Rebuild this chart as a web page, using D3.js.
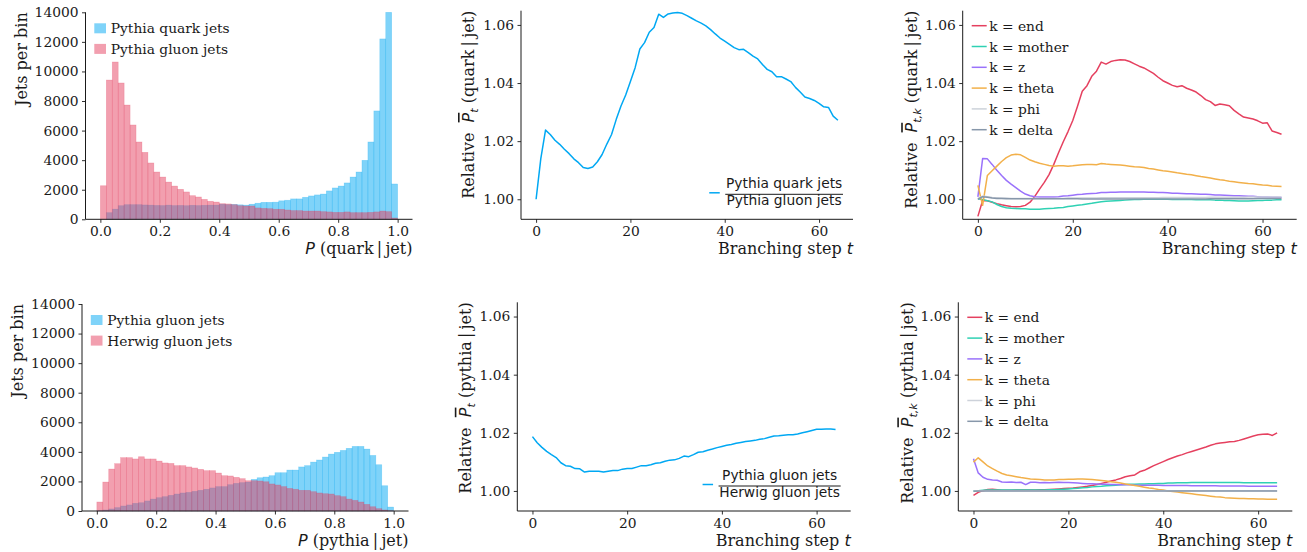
<!DOCTYPE html>
<html>
<head>
<meta charset="utf-8">
<script src="https://cdnjs.cloudflare.com/ajax/libs/d3/7.8.5/d3.min.js"></script>
<style>
  body { margin: 0; background: #fff; }
  svg text { font-family: "DejaVu Serif", serif; fill: #1a1a1a; }
</style>
</head>
<body>
<svg id="fig" width="1307" height="552"></svg>
<script>
// ---------- data ----------
const binWidth = 0.02;
// top-left: P(quark|jet), 50 bins from 0 to 1
const quarkJets = [
    0, 450, 690, 920, 990, 990, 990, 970, 960, 940,
    930, 960, 930, 940, 920, 950, 930, 950, 960, 960,
    1020, 990, 1010, 980, 960, 1020, 1090, 1150, 1150, 1160,
    1250, 1290, 1380, 1380, 1490, 1580, 1650, 1710, 1920, 2120,
    2250, 2460, 2860, 3200, 3990, 5230, 7330, 12200, 14000, 2390
];
const gluonJets = [
    2270, 9420, 10640, 9220, 7730, 6380, 5230, 4530, 3810, 3200,
    2860, 2520, 2250, 2030, 1850, 1600, 1510, 1350, 1220, 1170,
    1060, 1040, 990, 920, 900, 900, 770, 740, 720, 680,
    680, 630, 590, 590, 560, 560, 560, 520, 500, 470,
    470, 500, 450, 450, 450, 470, 500, 560, 520, 90
];
// bottom-left: P(pythia|jet)
const pythiaGluonJets = [
    20, 70, 140, 230, 340, 410, 520, 560, 680, 810,
    900, 970, 1060, 1150, 1220, 1260, 1330, 1400, 1470, 1560,
    1650, 1650, 1780, 1870, 1920, 1960, 2140, 2250, 2300, 2390,
    2590, 2590, 2770, 2770, 2980, 3070, 3310, 3450, 3650, 3850,
    3970, 4100, 4240, 4370, 4370, 4190, 3760, 3130, 1710, 270
];
const herwigGluonJets = [
    610, 1960, 2840, 3200, 3610, 3610, 3520, 3670, 3520, 3520,
    3380, 3250, 3220, 3070, 3070, 2980, 2910, 2820, 2730, 2730,
    2570, 2390, 2370, 2280, 2190, 2050, 2050, 2030, 1980, 1830,
    1760, 1650, 1530, 1470, 1400, 1400, 1310, 1220, 1170, 1150,
    1040, 970, 810, 720, 610, 450, 290, 160, 70, 20
];
const histTicksY = [0, 2000, 4000, 6000, 8000, 10000, 12000, 14000];
const histTicksX = [0, 0.2, 0.4, 0.6, 0.8, 1.0];

// middle: relative P_t per branching step t = 0..64
const quarkOverGluon = [
    1.0000, 1.0140, 1.0238, 1.0223, 1.0203, 1.0189, 1.0172, 1.0157, 1.0139, 1.0126,
    1.0109, 1.0106, 1.0111, 1.0129, 1.0154, 1.0190, 1.0223, 1.0275, 1.0321, 1.0359,
    1.0405, 1.0453, 1.0517, 1.0539, 1.0575, 1.0591, 1.0637, 1.0626, 1.0638, 1.0641,
    1.0643, 1.0640, 1.0632, 1.0623, 1.0614, 1.0606, 1.0597, 1.0584, 1.0569, 1.0555,
    1.0544, 1.0533, 1.0522, 1.0515, 1.0516, 1.0505, 1.0493, 1.0483, 1.0464, 1.0447,
    1.0439, 1.0422, 1.0422, 1.0414, 1.0405, 1.0385, 1.0369, 1.0352, 1.0347, 1.0340,
    1.0330, 1.0318, 1.0316, 1.0286, 1.0272
];
const pythiaOverHerwig = [
    1.0187, 1.0166, 1.0150, 1.0136, 1.0125, 1.0115, 1.0097, 1.0087, 1.0085, 1.0077,
    1.0076, 1.0065, 1.0068, 1.0068, 1.0068, 1.0065, 1.0068, 1.0070, 1.0070, 1.0075,
    1.0077, 1.0077, 1.0082, 1.0087, 1.0087, 1.0090, 1.0095, 1.0097, 1.0102, 1.0106,
    1.0107, 1.0112, 1.0120, 1.0118, 1.0125, 1.0133, 1.0135, 1.0140, 1.0144, 1.0149,
    1.0153, 1.0157, 1.0160, 1.0164, 1.0167, 1.0170, 1.0172, 1.0174, 1.0178, 1.0180,
    1.0185, 1.0189, 1.0190, 1.0192, 1.0193, 1.0193, 1.0196, 1.0200, 1.0204, 1.0208,
    1.0212, 1.0212, 1.0213, 1.0213, 1.0211
];

// right: relative P_{t,k} per feature k
const featureNames = ["end", "mother", "z", "theta", "phi", "delta"];
const quarkEnd = [
    0.9941, 0.9996, 0.9995, 0.9990, 0.9985, 0.9981, 0.9978, 0.9975, 0.9974, 0.9975,
    0.9979, 0.9990, 1.0010, 1.0035, 1.0058, 1.0085, 1.0120, 1.0160, 1.0198, 1.0233,
    1.0271, 1.0320, 1.0372, 1.0391, 1.0423, 1.0441, 1.0472, 1.0465, 1.0474, 1.0478,
    1.0480, 1.0479, 1.0474, 1.0466, 1.0458, 1.0452, 1.0443, 1.0433, 1.0420, 1.0408,
    1.0400, 1.0392, 1.0387, 1.0391, 1.0382, 1.0376, 1.0369, 1.0357, 1.0343, 1.0336,
    1.0323, 1.0328, 1.0325, 1.0322, 1.0306, 1.0294, 1.0283, 1.0280, 1.0276, 1.0270,
    1.0262, 1.0263, 1.0235, 1.0230, 1.0224
];
const quarkMother = [
    1.0002, 0.9999, 0.9995, 0.9991, 0.9982, 0.9975, 0.9971, 0.9969, 0.9968, 0.9967,
    0.9967, 0.9966, 0.9966, 0.9966, 0.9967, 0.9968, 0.9969, 0.9971, 0.9972, 0.9975,
    0.9977, 0.9979, 0.9981, 0.9984, 0.9986, 0.9989, 0.9991, 0.9993, 0.9994, 0.9995,
    0.9996, 0.9997, 0.9998, 0.9999, 0.9999, 1.0000, 1.0000, 1.0000, 1.0000, 1.0000,
    1.0000, 0.9999, 0.9999, 0.9999, 0.9999, 0.9999, 0.9998, 0.9998, 0.9998, 0.9998,
    0.9997, 0.9997, 0.9996, 0.9996, 0.9995, 0.9994, 0.9994, 0.9994, 0.9995, 0.9996,
    0.9996, 0.9997, 0.9997, 0.9998, 0.9998
];
const quarkZ = [
    1.0008, 1.0140, 1.0139, 1.0120, 1.0100, 1.0082, 1.0065, 1.0052, 1.0040, 1.0028,
    1.0018, 1.0012, 1.0009, 1.0008, 1.0008, 1.0008, 1.0008, 1.0009, 1.0011, 1.0012,
    1.0014, 1.0016, 1.0017, 1.0019, 1.0020, 1.0021, 1.0023, 1.0023, 1.0024, 1.0024,
    1.0025, 1.0025, 1.0025, 1.0025, 1.0025, 1.0025, 1.0024, 1.0024, 1.0023, 1.0023,
    1.0022, 1.0021, 1.0021, 1.0020, 1.0019, 1.0019, 1.0018, 1.0017, 1.0017, 1.0016,
    1.0015, 1.0015, 1.0014, 1.0013, 1.0012, 1.0012, 1.0011, 1.0010, 1.0010, 1.0009,
    1.0008, 1.0008, 1.0007, 1.0007, 1.0006
];
const quarkTheta = [
    1.0048, 0.9979, 1.0082, 1.0098, 1.0114, 1.0130, 1.0143, 1.0152, 1.0155, 1.0153,
    1.0144, 1.0135, 1.0129, 1.0124, 1.0120, 1.0116, 1.0114, 1.0115, 1.0115, 1.0114,
    1.0115, 1.0117, 1.0119, 1.0120, 1.0120, 1.0119, 1.0123, 1.0121, 1.0120, 1.0119,
    1.0118, 1.0116, 1.0114, 1.0112, 1.0111, 1.0109, 1.0106, 1.0104, 1.0101, 1.0098,
    1.0096, 1.0094, 1.0091, 1.0089, 1.0086, 1.0084, 1.0081, 1.0078, 1.0076, 1.0073,
    1.0070, 1.0067, 1.0065, 1.0062, 1.0060, 1.0058, 1.0056, 1.0054, 1.0053, 1.0051,
    1.0049, 1.0048, 1.0046, 1.0045, 1.0044
];
const quarkPhi = [
    1.0003, 1.0011, 1.0009, 1.0006, 1.0005, 1.0004, 1.0004, 1.0003, 1.0003, 1.0003,
    1.0003, 1.0003, 1.0003, 1.0003, 1.0003, 1.0003, 1.0003, 1.0003, 1.0003, 1.0004,
    1.0004, 1.0004, 1.0004, 1.0004, 1.0004, 1.0004, 1.0005, 1.0005, 1.0005, 1.0005,
    1.0005, 1.0005, 1.0005, 1.0005, 1.0005, 1.0005, 1.0005, 1.0005, 1.0005, 1.0006,
    1.0006, 1.0006, 1.0006, 1.0006, 1.0006, 1.0006, 1.0006, 1.0006, 1.0006, 1.0007,
    1.0007, 1.0007, 1.0007, 1.0007, 1.0007, 1.0007, 1.0007, 1.0008, 1.0008, 1.0008,
    1.0008, 1.0008, 1.0008, 1.0008, 1.0008
];
const quarkDelta = [
    1.0000, 1.0009, 1.0007, 1.0004, 1.0003, 1.0003, 1.0002, 1.0002, 1.0002, 1.0002,
    1.0002, 1.0002, 1.0002, 1.0002, 1.0002, 1.0002, 1.0002, 1.0002, 1.0002, 1.0002,
    1.0002, 1.0002, 1.0001, 1.0001, 1.0001, 1.0001, 1.0001, 1.0001, 1.0001, 1.0001,
    1.0001, 1.0001, 1.0001, 1.0001, 1.0001, 1.0001, 1.0001, 1.0001, 1.0001, 1.0001,
    1.0001, 1.0001, 1.0001, 1.0001, 1.0001, 1.0001, 1.0001, 1.0001, 1.0001, 1.0002,
    1.0002, 1.0002, 1.0002, 1.0002, 1.0002, 1.0002, 1.0002, 1.0002, 1.0002, 1.0003,
    1.0003, 1.0003, 1.0003, 1.0003, 1.0003
];
const pythiaEnd = [
    0.9985, 0.9995, 1.0001, 1.0005, 1.0006, 1.0004, 1.0002, 1.0002, 1.0002, 1.0003,
    1.0003, 1.0003, 1.0003, 1.0003, 1.0004, 1.0004, 1.0005, 1.0006, 1.0007, 1.0008,
    1.0009, 1.0010, 1.0012, 1.0014, 1.0016, 1.0019, 1.0022, 1.0026, 1.0030, 1.0034,
    1.0038, 1.0043, 1.0049, 1.0052, 1.0055, 1.0066, 1.0071, 1.0079, 1.0087, 1.0094,
    1.0101, 1.0108, 1.0114, 1.0120, 1.0125, 1.0131, 1.0136, 1.0141, 1.0146, 1.0151,
    1.0157, 1.0162, 1.0165, 1.0167, 1.0169, 1.0170, 1.0174, 1.0179, 1.0184, 1.0189,
    1.0193, 1.0195, 1.0196, 1.0191, 1.0200
];
const pythiaMother = [
    1.0000, 1.0001, 1.0002, 1.0003, 1.0003, 1.0003, 1.0003, 1.0003, 1.0003, 1.0003,
    1.0003, 1.0003, 1.0003, 1.0003, 1.0003, 1.0003, 1.0004, 1.0004, 1.0005, 1.0006,
    1.0007, 1.0008, 1.0009, 1.0011, 1.0012, 1.0014, 1.0015, 1.0016, 1.0018, 1.0019,
    1.0020, 1.0021, 1.0022, 1.0023, 1.0023, 1.0024, 1.0024, 1.0025, 1.0025, 1.0026,
    1.0026, 1.0027, 1.0027, 1.0028, 1.0028, 1.0028, 1.0029, 1.0029, 1.0029, 1.0029,
    1.0029, 1.0029, 1.0029, 1.0029, 1.0029, 1.0029, 1.0029, 1.0028, 1.0028, 1.0028,
    1.0028, 1.0028, 1.0028, 1.0028, 1.0028
];
const pythiaZ = [
    1.0111, 1.0062, 1.0047, 1.0040, 1.0038, 1.0037, 1.0031, 1.0030, 1.0031, 1.0029,
    1.0030, 1.0022, 1.0030, 1.0030, 1.0028, 1.0029, 1.0028, 1.0029, 1.0030, 1.0029,
    1.0029, 1.0028, 1.0027, 1.0026, 1.0025, 1.0025, 1.0024, 1.0023, 1.0023, 1.0022,
    1.0022, 1.0021, 1.0021, 1.0021, 1.0020, 1.0020, 1.0020, 1.0020, 1.0020, 1.0020,
    1.0019, 1.0019, 1.0019, 1.0019, 1.0019, 1.0019, 1.0018, 1.0018, 1.0018, 1.0018,
    1.0018, 1.0018, 1.0017, 1.0017, 1.0017, 1.0017, 1.0017, 1.0017, 1.0016, 1.0016,
    1.0016, 1.0016, 1.0016, 1.0016, 1.0016
];
const pythiaTheta = [
    1.0099, 1.0114, 1.0100, 1.0086, 1.0077, 1.0068, 1.0060, 1.0055, 1.0052, 1.0049,
    1.0046, 1.0044, 1.0041, 1.0040, 1.0039, 1.0038, 1.0038, 1.0038, 1.0039, 1.0039,
    1.0040, 1.0040, 1.0041, 1.0041, 1.0040, 1.0039, 1.0038, 1.0036, 1.0034, 1.0032,
    1.0030, 1.0027, 1.0024, 1.0021, 1.0019, 1.0016, 1.0013, 1.0010, 1.0008, 1.0005,
    1.0003, 1.0000, 0.9998, 0.9996, 0.9994, 0.9992, 0.9990, 0.9988, 0.9986, 0.9984,
    0.9982, 0.9980, 0.9979, 0.9977, 0.9976, 0.9975, 0.9974, 0.9974, 0.9973, 0.9973,
    0.9972, 0.9972, 0.9971, 0.9971, 0.9971
];
const pythiaPhi = [
    1.0000, 1.0001, 1.0001, 1.0001, 1.0001, 1.0001, 1.0001, 1.0001, 1.0001, 1.0001,
    1.0001, 1.0001, 1.0001, 1.0001, 1.0001, 1.0001, 1.0001, 1.0001, 1.0001, 1.0001,
    1.0001, 1.0001, 1.0001, 1.0001, 1.0001, 1.0001, 1.0001, 1.0001, 1.0001, 1.0001,
    1.0001, 1.0001, 1.0001, 1.0001, 1.0001, 1.0001, 1.0001, 1.0001, 1.0001, 1.0001,
    1.0001, 1.0001, 1.0001, 1.0001, 1.0001, 1.0001, 1.0001, 1.0001, 1.0001, 1.0001,
    1.0001, 1.0001, 1.0001, 1.0001, 1.0001, 1.0001, 1.0001, 1.0001, 1.0001, 1.0001,
    1.0001, 1.0001, 1.0001, 1.0001, 1.0001
];
const pythiaDelta = [
    0.9999, 1.0000, 1.0000, 1.0000, 1.0000, 1.0000, 1.0000, 1.0000, 1.0000, 1.0000,
    1.0000, 1.0000, 1.0000, 1.0000, 1.0000, 1.0000, 1.0000, 1.0000, 1.0000, 1.0000,
    1.0000, 1.0000, 1.0000, 1.0000, 1.0000, 1.0000, 1.0000, 1.0000, 1.0000, 1.0000,
    1.0000, 1.0000, 1.0000, 1.0000, 1.0000, 1.0000, 1.0000, 1.0000, 1.0000, 1.0000,
    1.0000, 1.0000, 1.0000, 1.0000, 1.0000, 1.0000, 1.0000, 1.0000, 1.0000, 1.0000,
    1.0000, 1.0000, 1.0000, 1.0000, 1.0000, 1.0000, 1.0000, 1.0000, 1.0000, 1.0000,
    1.0000, 1.0000, 1.0000, 1.0000, 1.0000
];
const lineTicksY = [1.00, 1.02, 1.04, 1.06];
const lineTicksX = [0, 20, 40, 60];

// ---------- style ----------
const BLUE = "#00a8f3";
const RED = "#e5405f";
const featureColors = ["#e5405f", "#2fd1b3", "#9a72fb", "#f2b04a", "#cdd2da", "#8797aa"];
const FS = 13.8;      // ticks + legends
const FS_LABEL = 16;  // axis labels

const svg = d3.select("#fig");

function frame(x0, x1, y0, y1) { return { x0, x1, y0, y1 }; }

// axes: left + bottom spines only, ticks outward
function drawAxes(g, f, x, y, xticks, yticks, xfmt, yfmt) {
    const ax = g.append("g").attr("transform", `translate(0,${f.y1})`)
        .call(d3.axisBottom(x).tickValues(xticks).tickFormat(xfmt).tickSize(3.5).tickPadding(3.5).tickSizeOuter(0));
    const ay = g.append("g").attr("transform", `translate(${f.x0},0)`)
        .call(d3.axisLeft(y).tickValues(yticks).tickFormat(yfmt).tickSize(3.5).tickPadding(3.5).tickSizeOuter(0));
    [ax, ay].forEach(a => {
        a.selectAll("text").attr("font-size", FS).style("font-family", "DejaVu Serif");
        a.selectAll("line").attr("stroke", "#1a1a1a").attr("stroke-width", 0.9);
        a.select(".domain").attr("stroke", "#1a1a1a").attr("stroke-width", 1);
    });
    ax.select(".domain").attr("d", `M${f.x0},0H${f.x1}`);
    ay.select(".domain").attr("d", `M0,${f.y0}V${f.y1}`);
}

function yLabelPlain(g, f, dx, txt) {
    g.append("text")
        .attr("transform", `translate(${f.x0 + dx},${f.y0}) rotate(-90)`)
        .attr("text-anchor", "end")
        .attr("font-size", FS_LABEL)
        .text(txt);
}

function yLabelMath(g, f, dx, sub, what) {
    const t = g.append("text")
        .attr("transform", `translate(${f.x0 + dx},${f.y0}) rotate(-90)`)
        .attr("text-anchor", "end")
        .attr("font-size", FS_LABEL);
    t.append("tspan").text("Relative\u00a0\u00a0");
    t.append("tspan").text("P")
        .style("font-family", "DejaVu Sans").style("font-style", "italic")
        .style("text-decoration", "overline");
    t.append("tspan").text(sub).attr("dy", 4).attr("font-size", FS_LABEL * 0.7)
        .style("font-family", "DejaVu Sans").style("font-style", "italic");
    t.append("tspan").text(`\u00a0(${what}\u2009|\u2009jet)`).attr("dy", -4);
}

function xLabel(g, f, lead, italicPart, rest) {
    const t = g.append("text")
        .attr("x", f.x1).attr("y", f.y1 + 35)
        .attr("text-anchor", "end")
        .attr("font-size", FS_LABEL);
    if (lead) t.append("tspan").text(lead);
    t.append("tspan").text(italicPart)
        .style("font-family", "DejaVu Sans").style("font-style", "italic");
    if (rest) t.append("tspan").text(rest);
}

// ---------- histogram panels ----------
function drawHist(f, seriesA, seriesB, names, xname, labelDx) {
    const g = svg.append("g");
    const x = d3.scaleLinear().domain([-0.05, 1.05]).range([f.x0, f.x1]);
    const y = d3.scaleLinear().domain([0, 14000]).range([f.y1, f.y0]);

    [[seriesA, BLUE], [seriesB, RED]].forEach(([vals, col]) => {
        g.append("g").selectAll("rect")
            .data(vals)
            .join("rect")
            .attr("x", (d, i) => x(i * binWidth))
            .attr("width", (d, i) => x((i + 1) * binWidth) - x(i * binWidth))
            .attr("y", d => y(d))
            .attr("height", d => y(0) - y(d))
            .attr("fill", col).attr("fill-opacity", 0.5)
            .attr("stroke", col).attr("stroke-opacity", 0.3).attr("stroke-width", 0.6);
    });

    drawAxes(g, f, x, y, histTicksX, histTicksY, d3.format(".1f"), d3.format("d"));
    yLabelPlain(g, f, labelDx, "Jets per bin");
    xLabel(g, f, "", "P", `\u00a0(${xname}\u2009|\u2009jet)`);

    // legend
    const lg = g.append("g");
    names.forEach((n, i) => {
        const cy = f.y0 + 16 + i * 20.6;
        lg.append("rect")
            .attr("x", f.x0 + 8.8).attr("y", cy - 5)
            .attr("width", 11.7).attr("height", 10)
            .attr("fill", i === 0 ? BLUE : RED).attr("fill-opacity", 0.5);
        lg.append("text")
            .attr("x", f.x0 + 25.3).attr("y", cy + 5)
            .attr("font-size", FS).text(n);
    });
}

// ---------- ratio panels ----------
function lineScales(f) {
    const x = d3.scaleLinear().domain([-3.2, 67.2]).range([f.x0, f.x1]);
    const y = d3.scaleLinear().domain([0.9931, 1.0649]).range([f.y1, f.y0]);
    return { x, y };
}

function drawRatio(f, values, num, den, what, labelDx) {
    const g = svg.append("g");
    const { x, y } = lineScales(f);
    const line = d3.line().x((d, i) => x(i)).y(d => y(d));
    g.append("path").datum(values)
        .attr("d", line).attr("fill", "none")
        .attr("stroke", BLUE).attr("stroke-width", 1.5).attr("stroke-linejoin", "round");

    drawAxes(g, f, x, y, lineTicksX, lineTicksY, d3.format("d"), d3.format(".2f"));
    yLabelMath(g, f, labelDx, "t", what);
    xLabel(g, f, "Branching step\u00a0", "t", "");

    // legend with a fraction label
    const lg = g.append("g");
    const right = f.x1 - 10;
    const lineY = f.y1 - 25;
    const tNum = lg.append("text").attr("font-size", FS).attr("text-anchor", "middle")
        .attr("y", lineY - 6.5).style("font-family", "DejaVu Sans").text(num);
    const tDen = lg.append("text").attr("font-size", FS).attr("text-anchor", "middle")
        .attr("y", lineY + 11).style("font-family", "DejaVu Sans").text(den);
    const w = Math.max(tNum.node().getComputedTextLength(), tDen.node().getComputedTextLength()) + 1.5;
    const cx = right - w / 2;
    tNum.attr("x", cx); tDen.attr("x", cx);
    lg.append("line").attr("x1", right - w).attr("x2", right)
        .attr("y1", lineY).attr("y2", lineY).attr("stroke", "#1a1a1a").attr("stroke-width", 1);
    lg.append("line").attr("x1", right - w - 16).attr("x2", right - w - 5.5)
        .attr("y1", lineY - 1.5).attr("y2", lineY - 1.5)
        .attr("stroke", BLUE).attr("stroke-width", 1.5);
}

function drawFeatures(f, seriesList, what, labelDx) {
    const g = svg.append("g");
    const { x, y } = lineScales(f);
    const line = d3.line().x((d, i) => x(i)).y(d => y(d));
    seriesList.forEach((vals, k) => {
        g.append("path").datum(vals)
            .attr("d", line).attr("fill", "none")
            .attr("stroke", featureColors[k]).attr("stroke-width", 1.5)
            .attr("stroke-linejoin", "round");
    });

    drawAxes(g, f, x, y, lineTicksX, lineTicksY, d3.format("d"), d3.format(".2f"));
    yLabelMath(g, f, labelDx, "t,k", what);
    xLabel(g, f, "Branching step\u00a0", "t", "");

    featureNames.forEach((n, k) => {
        const cy = f.y0 + 15 + k * 20.8;
        g.append("line")
            .attr("x1", f.x0 + 9).attr("x2", f.x0 + 24)
            .attr("y1", cy).attr("y2", cy)
            .attr("stroke", featureColors[k]).attr("stroke-width", 1.5);
        g.append("text")
            .attr("x", f.x0 + 26.5).attr("y", cy + 5)
            .attr("font-size", FS).text(`k = ${n}`);
    });
}

drawHist(frame(85.5, 412.5, 12.3, 219.3), quarkJets, gluonJets,
    ["Pythia quark jets", "Pythia gluon jets"], "quark", -58.5);
drawHist(frame(82, 408.5, 304, 511), pythiaGluonJets, herwigGluonJets,
    ["Pythia gluon jets", "Herwig gluon jets"], "pythia", -59.5);

drawRatio(frame(521, 853, 10.7, 219.3), quarkOverGluon,
    "Pythia quark jets", "Pythia gluon jets", "quark", -47);
drawRatio(frame(517.3, 850.7, 302.3, 511), pythiaOverHerwig,
    "Pythia gluon jets", "Herwig gluon jets", "pythia", -46.5);

drawFeatures(frame(962.7, 1296.7, 10.7, 219.3),
    [quarkEnd, quarkMother, quarkZ, quarkTheta, quarkPhi, quarkDelta], "quark", -45.5);
drawFeatures(frame(958.3, 1292.3, 302.3, 511),
    [pythiaEnd, pythiaMother, pythiaZ, pythiaTheta, pythiaPhi, pythiaDelta], "pythia", -45);
</script>
</body>
</html>
